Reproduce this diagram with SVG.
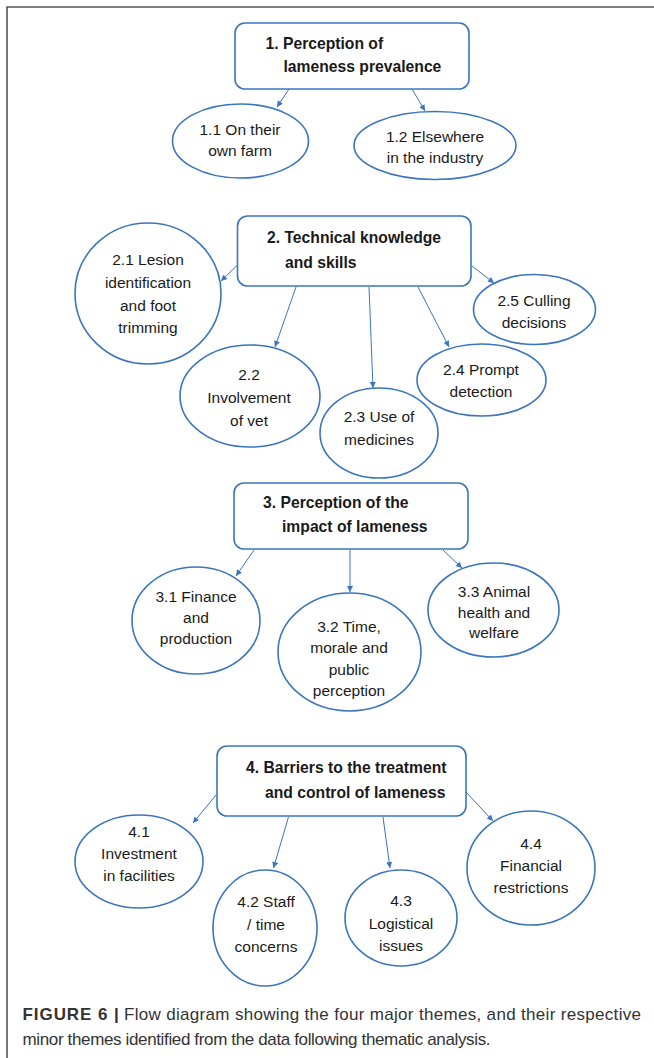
<svg xmlns="http://www.w3.org/2000/svg" width="654" height="1058" viewBox="0 0 654 1058">
<style>
.box{fill:#fff;stroke:#3a75bd;stroke-width:1.6}
.ell{fill:#fff;stroke:#3a75bd;stroke-width:1.6}
.hd{font-family:"Liberation Sans",Arial,sans-serif;font-weight:bold;font-size:15.7px;fill:#1a1a1a}
.mn{font-family:"Liberation Sans",Arial,sans-serif;font-size:15.5px;fill:#1a1a1a;text-anchor:middle}
.cn line{stroke:#3a75bd;stroke-width:1;marker-end:url(#ah)}
.cap{font-family:"Liberation Sans",Arial,sans-serif;font-size:17px;fill:#333}
.frame{stroke:#555;stroke-width:1.6;fill:none}
</style>
<defs>
<marker id="ah" viewBox="0 0 10 10" refX="10" refY="5" markerWidth="7" markerHeight="6" markerUnits="userSpaceOnUse" orient="auto">
<path d="M0,0 L10,5 L0,10 z" fill="#3a75bd"/>
</marker>
</defs>
<rect width="654" height="1058" fill="#fff"/>
<path class="frame" d="M7,1058 V7 H654"/>

<g id="connectors" class="cn">
<line x1="289" y1="89" x2="277" y2="107"/>
<line x1="412" y1="89" x2="425" y2="111"/>
<line x1="237.5" y1="265" x2="221" y2="281"/>
<line x1="296" y1="287" x2="275" y2="347"/>
<line x1="369" y1="287" x2="373" y2="388"/>
<line x1="418" y1="287" x2="449" y2="347"/>
<line x1="472" y1="266" x2="494" y2="283"/>
<line x1="254" y1="550" x2="236" y2="576"/>
<line x1="350" y1="550" x2="350" y2="592"/>
<line x1="443" y1="550" x2="462" y2="568"/>
<line x1="216" y1="795" x2="193" y2="823"/>
<line x1="288.5" y1="817" x2="273.5" y2="868"/>
<line x1="383" y1="817" x2="390" y2="868"/>
<line x1="466" y1="792" x2="493" y2="821"/>
</g>

<g id="n1">
<rect class="box" x="235" y="23" width="234" height="66" rx="10"/>
<text class="hd" x="265.5" y="49">1. Perception of</text>
<text class="hd" x="283.5" y="72">lameness prevalence</text>
</g>
<g id="n1_1">
<ellipse class="ell" cx="240.5" cy="141" rx="68" ry="37"/>
<text class="mn" x="240" y="135">1.1 On their</text>
<text class="mn" x="240" y="156">own farm</text>
</g>
<g id="n1_2">
<ellipse class="ell" cx="435" cy="145.5" rx="81" ry="34"/>
<text class="mn" x="435" y="142">1.2 Elsewhere</text>
<text class="mn" x="435" y="162.5">in the industry</text>
</g>

<g id="n2">
<rect class="box" x="237.5" y="216" width="233.5" height="70" rx="10"/>
<text class="hd" x="267" y="243">2. Technical knowledge</text>
<text class="hd" x="285" y="268">and skills</text>
</g>
<g id="n2_1">
<ellipse class="ell" cx="148" cy="293.5" rx="73" ry="70.5"/>
<text class="mn" x="148" y="265">2.1 Lesion</text>
<text class="mn" x="148" y="288">identification</text>
<text class="mn" x="148" y="311">and foot</text>
<text class="mn" x="148" y="333">trimming</text>
</g>
<g id="n2_2">
<ellipse class="ell" cx="250" cy="396" rx="70" ry="51"/>
<text class="mn" x="249" y="380">2.2</text>
<text class="mn" x="249" y="403">Involvement</text>
<text class="mn" x="249" y="426">of vet</text>
</g>
<g id="n2_3">
<ellipse class="ell" cx="379" cy="433" rx="59" ry="45"/>
<text class="mn" x="379" y="422">2.3 Use of</text>
<text class="mn" x="379" y="445">medicines</text>
</g>
<g id="n2_4">
<ellipse class="ell" cx="481.5" cy="380" rx="64.5" ry="36"/>
<text class="mn" x="481" y="375">2.4 Prompt</text>
<text class="mn" x="481" y="397">detection</text>
</g>
<g id="n2_5">
<ellipse class="ell" cx="534.5" cy="309.5" rx="61" ry="35"/>
<text class="mn" x="534" y="306">2.5 Culling</text>
<text class="mn" x="534" y="328">decisions</text>
</g>

<g id="n3">
<rect class="box" x="234" y="483" width="234" height="66" rx="10"/>
<text class="hd" x="263" y="508">3. Perception of the</text>
<text class="hd" x="282" y="532">impact of lameness</text>
</g>
<g id="n3_1">
<ellipse class="ell" cx="196" cy="620.5" rx="64" ry="53.5"/>
<text class="mn" x="196" y="602">3.1 Finance</text>
<text class="mn" x="196" y="623">and</text>
<text class="mn" x="196" y="644">production</text>
</g>
<g id="n3_2">
<ellipse class="ell" cx="349.5" cy="652" rx="71.5" ry="59"/>
<text class="mn" x="349" y="632">3.2 Time,</text>
<text class="mn" x="349" y="653">morale and</text>
<text class="mn" x="349" y="674.5">public</text>
<text class="mn" x="349" y="696">perception</text>
</g>
<g id="n3_3">
<ellipse class="ell" cx="493.5" cy="610" rx="65.5" ry="47"/>
<text class="mn" x="494" y="597">3.3 Animal</text>
<text class="mn" x="494" y="617.5">health and</text>
<text class="mn" x="494" y="638">welfare</text>
</g>

<g id="n4">
<rect class="box" x="217" y="746" width="249" height="70" rx="10"/>
<text class="hd" x="246" y="773">4. Barriers to the treatment</text>
<text class="hd" x="265" y="798">and control of lameness</text>
</g>
<g id="n4_1">
<ellipse class="ell" cx="139" cy="861.5" rx="64" ry="46.5"/>
<text class="mn" x="139" y="837">4.1</text>
<text class="mn" x="139" y="859">Investment</text>
<text class="mn" x="139" y="881">in facilities</text>
</g>
<g id="n4_2">
<ellipse class="ell" cx="265" cy="928" rx="52" ry="58"/>
<text class="mn" x="266" y="907">4.2 Staff</text>
<text class="mn" x="266" y="930">/ time</text>
<text class="mn" x="266" y="952">concerns</text>
</g>
<g id="n4_3">
<ellipse class="ell" cx="401" cy="918" rx="56" ry="48"/>
<text class="mn" x="401" y="906">4.3</text>
<text class="mn" x="401" y="929">Logistical</text>
<text class="mn" x="401" y="951">issues</text>
</g>
<g id="n4_4">
<ellipse class="ell" cx="531" cy="868" rx="64" ry="57"/>
<text class="mn" x="531" y="849">4.4</text>
<text class="mn" x="531" y="871">Financial</text>
<text class="mn" x="531" y="893">restrictions</text>
</g>

<g id="caption">
<text class="cap" x="22.5" y="1020" font-weight="bold" fill="#111" textLength="85">FIGURE 6</text>
<text class="cap" x="114" y="1020" font-weight="bold" fill="#111">|</text>
<text class="cap" x="124" y="1020" textLength="517">Flow diagram showing the four major themes, and their respective</text>
<text class="cap" x="22.5" y="1045" textLength="468">minor themes identified from the data following thematic analysis.</text>
</g>
</svg>
